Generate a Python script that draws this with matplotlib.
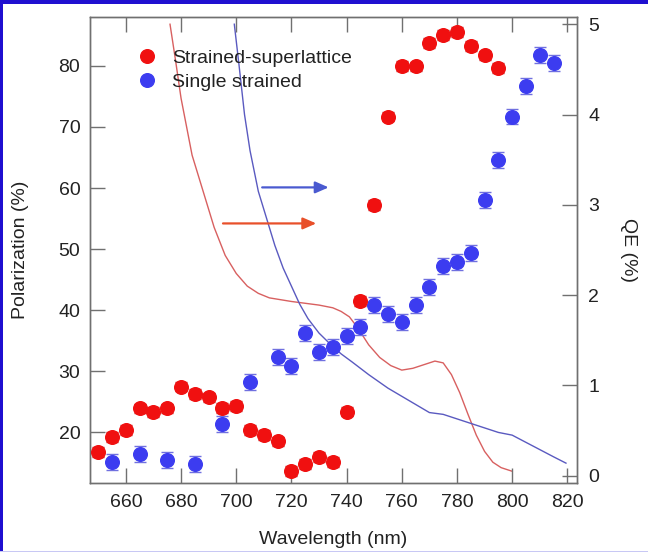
import numpy as np
import matplotlib.pyplot as plt
from matplotlib.lines import Line2D
from matplotlib.patches import Rectangle

plt.rcParams['font.family'] = ['Liberation Sans', 'DejaVu Sans']

# --- polarization data (left axis) ---
sl_wl = [650, 655, 660, 665, 670, 675, 680, 685, 690, 695, 700, 705, 710, 715, 720,
         725, 730, 735, 740, 745, 750, 755, 760, 765, 770, 775, 780, 785, 790, 795]
sl_pol = [16.8, 19.2, 20.4, 23.9, 23.3, 23.9, 27.5, 26.3, 25.7, 24.0, 24.3, 20.4, 19.5, 18.5, 13.7,
          14.8, 16.0, 15.1, 23.4, 41.5, 57.2, 71.7, 80.0, 79.9, 83.8, 85.1, 85.6, 83.3, 81.7, 79.7]
sl_err = 0.8

ss_wl = [655, 665, 675, 685, 695, 705, 715, 720, 725, 730, 735, 740, 745, 750,
         755, 760, 765, 770, 775, 780, 785, 790, 795, 800, 805, 810, 815]
ss_pol = [15.2, 16.5, 15.5, 14.8, 21.3, 28.2, 32.4, 30.9, 36.3, 33.2, 33.9, 35.8, 37.2, 40.8,
          39.3, 38.0, 40.8, 43.8, 47.2, 47.9, 49.4, 58.0, 64.6, 71.7, 76.7, 81.8, 80.5]
ss_err = 1.3

# --- QE curves (right axis) ---
sl_qe_wl = [676, 678, 680, 684, 688, 692, 696, 700, 704, 708, 712, 716, 720, 725, 730, 735,
            738, 741, 744, 748, 752, 756, 760, 764, 768, 772, 775, 778, 781, 784, 787, 790,
            793, 796, 800]
sl_qe = [5.0, 4.6, 4.18, 3.55, 3.15, 2.75, 2.44, 2.24, 2.1, 2.02, 1.97, 1.95, 1.93, 1.91, 1.89, 1.86,
         1.82, 1.76, 1.64, 1.45, 1.31, 1.22, 1.17, 1.19, 1.23, 1.27, 1.25, 1.12, 0.92, 0.68, 0.45, 0.27,
         0.15, 0.09, 0.05]

ss_qe_wl = [699.3, 701, 703, 705, 708, 711, 714, 717, 720, 723, 726, 730, 734, 738, 742, 748,
            755, 760, 765, 770, 775, 780, 785, 790, 795, 800, 805, 810, 815, 819.5]
ss_qe = [5.0, 4.55, 4.0, 3.6, 3.15, 2.85, 2.55, 2.3, 2.1, 1.9, 1.74, 1.58, 1.46, 1.35, 1.26, 1.12,
         0.97, 0.88, 0.79, 0.70, 0.68, 0.63, 0.58, 0.53, 0.48, 0.45, 0.37, 0.29, 0.21, 0.14]

COL_RED = '#f01010'
COL_BLUE = '#3c3cf0'
COL_SPINE = '#707070'
COL_TEXT = '#222222'
FS = 14

fig = plt.figure(figsize=(6.48, 5.52), dpi=100)
fig.patch.set_facecolor('white')

# blue frame around the picture
fig.patches.append(Rectangle((0, 1 - 4 / 552), 1, 4 / 552, transform=fig.transFigure,
                             facecolor='#1f0fd0', edgecolor='none', zorder=0))
fig.patches.append(Rectangle((0, 0), 3 / 648, 1, transform=fig.transFigure,
                             facecolor='#1f0fd0', edgecolor='none', zorder=0))
fig.patches.append(Rectangle((0, 0), 1, 1.5 / 552, transform=fig.transFigure,
                             facecolor='#c8c8f4', edgecolor='none', zorder=0))

ax = fig.add_axes([90 / 648, 69 / 552, 487 / 648, 466 / 552])
ax2 = ax.twinx()
ax.set_zorder(ax2.get_zorder() + 1)
ax.patch.set_visible(False)

# QE curves
ax2.plot(sl_qe_wl, sl_qe, color='#d86060', lw=1.0)
ax2.plot(ss_qe_wl, ss_qe, color='#5a5ac0', lw=1.0)

# polarization points
ax.errorbar(ss_wl, ss_pol, yerr=ss_err, fmt='o', ms=9.8, color=COL_BLUE, ecolor='#7070e0',
            elinewidth=1.0, capsize=4.5, capthick=1.0, zorder=3)
ax.errorbar(sl_wl, sl_pol, yerr=sl_err, fmt='o', ms=9.8, color=COL_RED, ecolor='#c02020',
            elinewidth=1.0, capsize=4.5, capthick=1.0, zorder=4)

# arrows pointing to the right axis
ax.annotate('', xy=(733.5, 60.1), xytext=(709.4, 60.1),
            arrowprops=dict(arrowstyle='-|>,head_length=0.8,head_width=0.35', color='#4a5ad0',
                            lw=1.6, shrinkA=0, shrinkB=0))
ax.annotate('', xy=(729.0, 54.2), xytext=(695.2, 54.2),
            arrowprops=dict(arrowstyle='-|>,head_length=0.8,head_width=0.35', color='#e8502a',
                            lw=1.6, shrinkA=0, shrinkB=0))

ax.set_xlim(647, 823.5)
ax.set_ylim(11.7, 88)
ax2.set_ylim(-0.08, 5.08)

ax.set_xticks(range(660, 821, 20))
ax.set_yticks(range(20, 81, 10))
ax2.set_yticks(range(0, 6))

for a in (ax, ax2):
    for s in a.spines.values():
        s.set_color(COL_SPINE)
        s.set_linewidth(1.0)
ax.tick_params(axis='x', direction='in', length=11, width=1.0, color=COL_SPINE,
               top=True, labelsize=FS, labelcolor=COL_TEXT, pad=8)
ax.tick_params(axis='y', direction='in', length=11, width=1.0, color=COL_SPINE,
               labelsize=FS, labelcolor=COL_TEXT, pad=7)
ax2.tick_params(axis='y', direction='in', length=11, width=1.0, color=COL_SPINE,
                labelsize=FS, labelcolor=COL_TEXT, pad=8)

ax.set_xlabel('Wavelength (nm)', fontsize=FS, color=COL_TEXT, labelpad=14)
ax.set_ylabel('Polarization (%)', fontsize=FS, color=COL_TEXT, labelpad=21)
ax2.set_ylabel('QE (%)', fontsize=FS, color=COL_TEXT, rotation=270, labelpad=27)

handles = [Line2D([0], [0], marker='o', ls='none', ms=9.8, color=COL_RED, label='Strained-superlattice'),
           Line2D([0], [0], marker='o', ls='none', ms=9.8, color=COL_BLUE, label='Single strained')]
ax.legend(handles=handles, loc='upper left', bbox_to_anchor=(0.097, 0.93), frameon=False,
          fontsize=FS, handlelength=1.0, handletextpad=0.8, labelspacing=0.3,
          borderaxespad=0, borderpad=0, labelcolor=COL_TEXT)

fig.savefig('out.png', dpi=100, facecolor='white')
